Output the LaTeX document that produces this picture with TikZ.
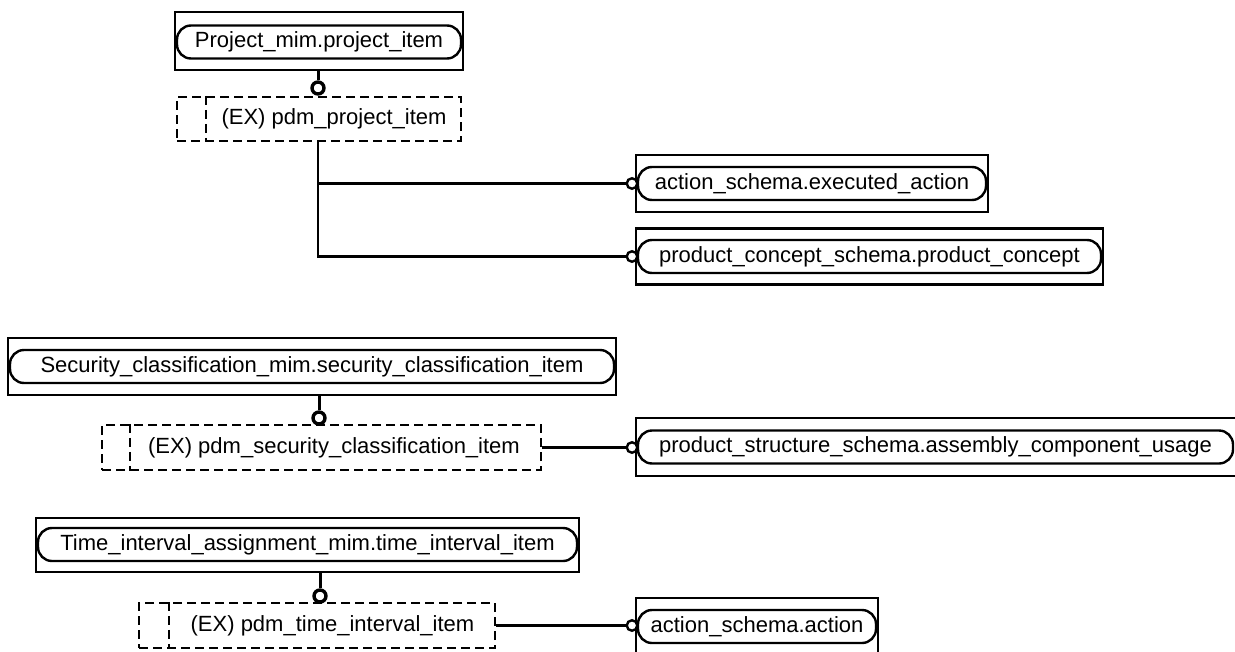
\documentclass[tikz,border=0pt]{standalone}
\usepackage{fontspec}
\setmainfont{Liberation Sans}
\begin{document}
\begin{tikzpicture}[x=1pt,y=-1pt,
  outerbox/.style={draw,line width=2.8pt,rectangle,inner sep=0pt},
  pill/.style={draw,line width=2.4pt,rounded corners=14pt,inner sep=0pt,font=\fontsize{22}{26}\selectfont},
  dbox/.style={draw,line width=2.2pt,dash pattern=on 9pt off 5pt,rectangle,inner sep=0pt},
  dline/.style={line width=2.2pt,dash pattern=on 9pt off 5pt},
  dtext/.style={inner sep=0pt,font=\fontsize{22}{26}\selectfont},
  conn/.style={line width=2.3pt},
  stem/.style={line width=3pt},
  bigcirc/.style={draw,circle,line width=3.4pt,minimum size=12pt,inner sep=0pt,fill=white},
  smallcirc/.style={draw,circle,line width=2.4pt,minimum size=10.5pt,inner sep=0pt,fill=white}
]
\useasboundingbox (0,0) rectangle (1235,651);
\clip (0,0) rectangle (1235,651);

% ---------- Group 1 ----------
\node[outerbox,minimum width=288pt,minimum height=58pt] (P) at (319,41) {};
\node[pill,minimum width=284pt,minimum height=33pt] (Pt) at (319,42) {Project\_mim.project\_item};
\node[dbox,minimum width=284pt,minimum height=44pt] (D1) at (319,119) {};
\draw[dline] ([xshift=30pt]D1.north west) -- ([xshift=30pt]D1.south west);
\node[dtext] (D1t) at (334,119) {(EX) pdm\_project\_item};
\node[bigcirc] (P1c) at (318,88) {};
\draw[stem] (P.south -| P1c) -- (P1c.north);

\node[outerbox,minimum width=352pt,minimum height=57pt] (E1) at (812,183.5) {};
\node[pill,minimum width=348pt,minimum height=33pt] (E1t) at (812,183.5) {action\_schema.executed\_action};
\node[outerbox,minimum width=467pt,minimum height=56pt] (E2) at (869.5,256.5) {};
\node[pill,minimum width=463pt,minimum height=33pt] (E2t) at (869.5,256.5) {product\_concept\_schema.product\_concept};
\node[smallcirc] (E1c) at (632,183.5) {};
\node[smallcirc] (E2c) at (632,256.5) {};
\coordinate (J1) at (318,256.5);
\draw[conn] (D1.south -| P1c) -- (J1) -- (E2c.west);
\draw[conn] (D1.south -| P1c) |- (E1c.west);

% ---------- Group 2 ----------
\node[outerbox,minimum width=608pt,minimum height=57pt] (S) at (312,366.5) {};
\node[pill,minimum width=604pt,minimum height=33pt] (St) at (312,366.5) {Security\_classification\_mim.security\_classification\_item};
\node[dbox,minimum width=439pt,minimum height=45pt] (D2) at (321.5,447.5) {};
\draw[dline] ([xshift=29pt]D2.north west) -- ([xshift=29pt]D2.south west);
\node[dtext] (D2t) at (334,447.5) {(EX) pdm\_security\_classification\_item};
\node[bigcirc] (S2c) at (319,418) {};
\draw[stem] (S.south -| S2c) -- (S2c.north);

\node[outerbox,minimum width=600pt,minimum height=58pt] (A2) at (936,447) {};
\node[pill,minimum width=595pt,minimum height=33pt] (A2t) at (935.5,447) {product\_structure\_schema.assembly\_component\_usage};
\node[smallcirc] (A2c) at (632,447.5) {};
\draw[conn] (D2.east) -- (A2c.west);

% ---------- Group 3 ----------
\node[outerbox,minimum width=543pt,minimum height=54pt] (T) at (307.5,545) {};
\node[pill,minimum width=539pt,minimum height=33pt] (Tt) at (307.5,544.5) {Time\_interval\_assignment\_mim.time\_interval\_item};
\node[dbox,minimum width=356pt,minimum height=45pt] (D3) at (317,625.5) {};
\draw[dline] ([xshift=31pt]D3.north west) -- ([xshift=31pt]D3.south west);
\node[dtext] (D3t) at (332.5,625.5) {(EX) pdm\_time\_interval\_item};
\node[bigcirc] (T3c) at (320,596) {};
\draw[stem] (T.south -| T3c) -- (T3c.north);

\node[outerbox,minimum width=242pt,minimum height=57pt] (A3) at (757,626.5) {};
\node[pill,minimum width=238pt,minimum height=33pt] (A3t) at (757,626.5) {action\_schema.action};
\node[smallcirc] (A3c) at (632,625.5) {};
\draw[conn] (D3.east) -- (A3c.west);
\end{tikzpicture}
\end{document}
